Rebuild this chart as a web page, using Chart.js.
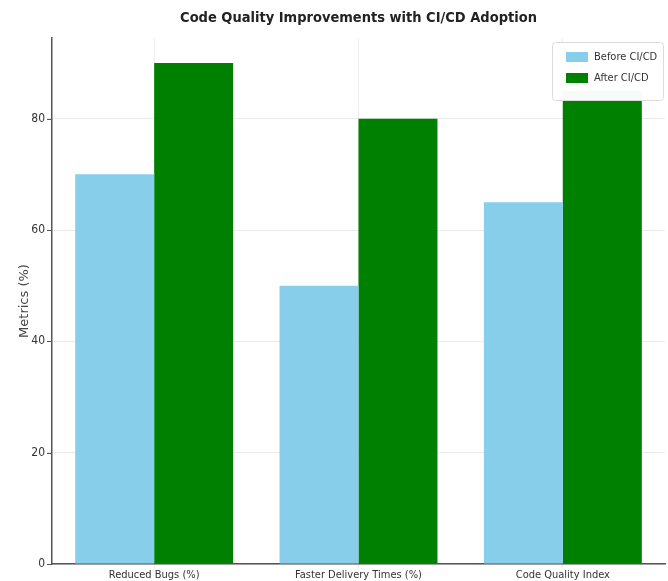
<!DOCTYPE html>
<html>
<head>
<meta charset="utf-8">
<script src="https://cdn.jsdelivr.net/npm/chart.js@4/dist/chart.umd.min.js"></script>
<style>
  html, body { margin: 0; padding: 0; background: #fff; overflow: hidden; }
  #wrap { width: 668px; height: 581px; position: relative; }
</style>
</head>
<body>
<div id="wrap"><canvas id="qualityChart" width="668" height="581"></canvas></div>
<script>
const categories = ['Reduced Bugs (%)', 'Faster Delivery Times (%)', 'Code Quality Index'];
const beforeValues = [70, 50, 65];
const afterValues = [90, 80, 85];
const yTicks = [0, 20, 40, 60, 80];

const narrowFont = "'Liberation Sans Narrow', 'DejaVu Sans Condensed', sans-serif";

// legend drawn inside the plot, top right, like the original
const boxLegend = {
    id: 'boxLegend',
    afterDraw(chart) {
        const c = chart.ctx;
        const area = chart.chartArea;
        const w = 111, h = 58;
        const x = area.right - w - 2, y = area.top + 4;
        c.save();
        c.fillStyle = 'rgba(255,255,255,0.97)';
        c.strokeStyle = '#dcdcdc';
        c.lineWidth = 1;
        c.beginPath();
        c.roundRect(x + 0.5, y + 0.5, w, h, 3);
        c.fill();
        c.stroke();
        c.font = '11px ' + narrowFont;
        c.textBaseline = 'middle';
        chart.data.datasets.forEach((ds, i) => {
            const rowY = y + 15 + i * 21;
            c.fillStyle = ds.backgroundColor;
            c.fillRect(x + 14, rowY - 5, 22, 10);
            c.fillStyle = '#333';
            c.fillText(ds.label, x + 42, rowY);
        });
        c.restore();
    }
};

// small outward tick marks on the y axis
const yTickMarks = {
    id: 'yTickMarks',
    afterDraw(chart) {
        const c = chart.ctx;
        const ys = chart.scales.y;
        c.save();
        c.strokeStyle = '#555';
        c.lineWidth = 1;
        yTicks.forEach(v => {
            const py = Math.round(ys.getPixelForValue(v)) + 0.5;
            c.beginPath();
            c.moveTo(ys.right - 5, py);
            c.lineTo(ys.right, py);
            c.stroke();
        });
        c.restore();
    }
};

const chart = new Chart(document.getElementById('qualityChart').getContext('2d'), {
    type: 'bar',
    data: {
        labels: categories,
        datasets: [
            { label: 'Before CI/CD', data: beforeValues, backgroundColor: '#87CEEB' },
            { label: 'After CI/CD', data: afterValues, backgroundColor: '#008000' }
        ]
    },
    options: {
        responsive: false,
        animation: false,
        layout: { padding: { right: 3, top: 0, bottom: 0, left: 0 } },
        datasets: {
            bar: { categoryPercentage: 0.773, barPercentage: 1.0 }
        },
        plugins: {
            legend: { display: false },
            tooltip: { enabled: false },
            title: {
                display: true,
                fullSize: false,
                text: 'Code Quality Improvements with CI/CD Adoption',
                color: '#222',
                font: { family: "'DejaVu Sans Condensed', sans-serif", size: 14.5, weight: 'bold' },
                padding: { top: 10, bottom: 10.6 }
            }
        },
        scales: {
            x: {
                afterFit: (scale) => { scale.height = 17; },
                grid: { offset: false, color: 'rgba(190,190,190,0.25)', tickLength: 4 },
                border: { color: '#555', width: 1.5 },
                ticks: { color: '#333', padding: 1, font: { family: narrowFont, size: 11 } }
            },
            y: {
                min: 0,
                max: 94.5,
                afterFit: (scale) => { scale.width = 52; },
                afterBuildTicks: (scale) => { scale.ticks = yTicks.map(v => ({ value: v })); },
                grid: { color: 'rgba(190,190,190,0.3)', tickLength: 5 },
                border: { color: '#555', width: 1.5 },
                ticks: { color: '#333', padding: 2, font: { family: narrowFont, size: 12 } },
                title: {
                    display: true,
                    text: 'Metrics (%)',
                    color: '#444',
                    font: { family: "'DejaVu Sans', sans-serif", size: 13 },
                    padding: { top: 17, bottom: 0 }
                }
            }
        }
    },
    plugins: [boxLegend, yTickMarks]
});
</script>
</body>
</html>
